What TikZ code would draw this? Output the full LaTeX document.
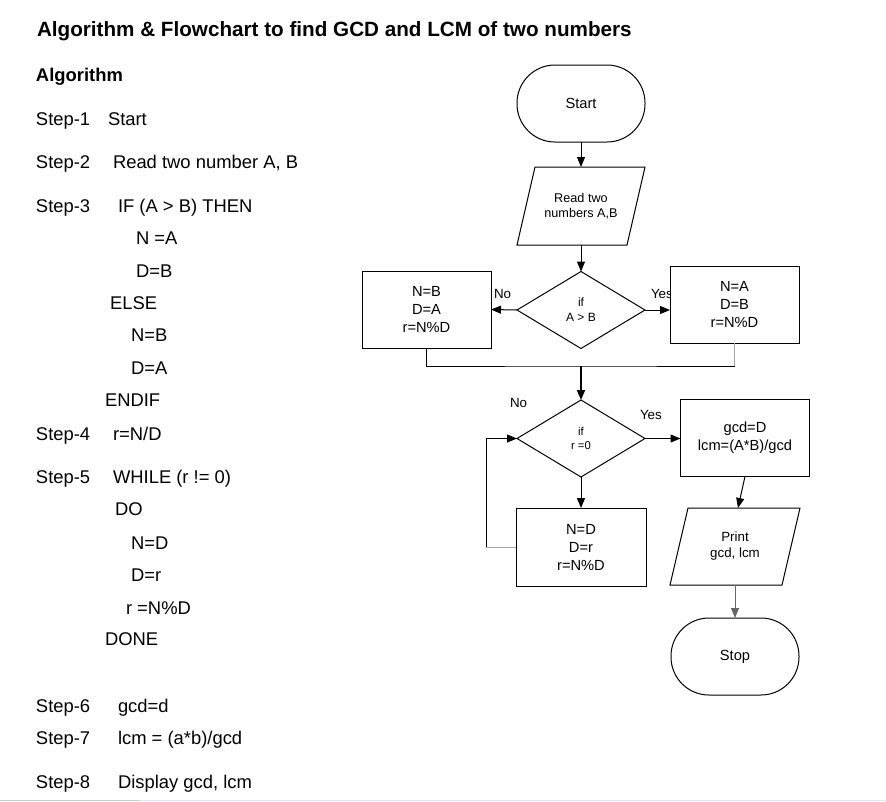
\documentclass[tikz,border=0pt]{standalone}
\usepackage{fontspec}
\setmainfont{Liberation Sans}
\usetikzlibrary{arrows.meta,shapes.geometric}
\begin{document}
\begin{tikzpicture}[x=0.75pt,y=-0.75pt,
  every node/.style={inner sep=0pt, outer sep=0pt},
  alg/.style={anchor=base west, font=\fontsize{13.8}{16}\selectfont},
  terminal/.style={draw, fill=white, line width=0.75pt, minimum width=96pt, minimum height=57.75pt, rounded corners=28.5pt, align=center, font=\fontsize{11}{13.5}\selectfont},
  procbox/.style={draw, fill=white, line width=0.75pt, minimum width=96.75pt, minimum height=57.75pt, align=center, font=\fontsize{11}{13.5}\selectfont},
  decision/.style={draw, fill=white, shape=diamond, line width=0.75pt, minimum width=96pt, minimum height=57.75pt, align=center, font=\fontsize{9}{11.25}\selectfont},
  iobox/.style={minimum width=96pt, minimum height=58.5pt, align=center},
  para/.style={line width=0.75pt},
  arrow/.style={-{Triangle[length=7.5pt,width=6pt]}, line width=0.75pt},
  lbl/.style={anchor=west, font=\fontsize{10}{12}\selectfont},
]
\useasboundingbox (0,0) rectangle (886,801);
\fill[white] (0,0) rectangle (886,801);

% ---------- title and algorithm ----------
\node[anchor=base west, font=\fontsize{15.5}{18}\bfseries] (title) at (37,36) {Algorithm \& Flowchart to find GCD and LCM of two numbers};
\node[anchor=base west, font=\fontsize{13.8}{16}\bfseries] (alghead) at (36,81) {Algorithm};

\node[alg] (s1) at (36,125) {Step-1};
\node[alg] (s1t) at (108,125) {Start};
\node[alg] (s2) at (36,168) {Step-2};
\node[alg] (s2t) at (113,168) {Read two number A, B};
\node[alg] (s3) at (36,212) {Step-3};
\node[alg] (s3t) at (118,212) {IF (A > B) THEN};
\node[alg] (s3a) at (136,244) {N =A};
\node[alg] (s3b) at (136,277) {D=B};
\node[alg] (s3c) at (110,309) {ELSE};
\node[alg] (s3d) at (131,341) {N=B};
\node[alg] (s3e) at (131,374) {D=A};
\node[alg] (s3f) at (105,406) {ENDIF};
\node[alg] (s4) at (36,440) {Step-4};
\node[alg] (s4t) at (113,440) {r=N/D};
\node[alg] (s5) at (36,483) {Step-5};
\node[alg] (s5t) at (113,483) {WHILE (r != 0)};
\node[alg] (s5a) at (115,515) {DO};
\node[alg] (s5b) at (131,549) {N=D};
\node[alg] (s5c) at (131,581) {D=r};
\node[alg] (s5d) at (126,614) {r =N\%D};
\node[alg] (s5e) at (105,645) {DONE};
\node[alg] (s6) at (36,712) {Step-6};
\node[alg] (s6t) at (118,712) {gcd=d};
\node[alg] (s7) at (36,744) {Step-7};
\node[alg] (s7t) at (118,744) {lcm = (a*b)/gcd};
\node[alg] (s8) at (36,788) {Step-8};
\node[alg] (s8t) at (118,788) {Display gcd, lcm};

% ---------- flowchart ----------
\node[lbl] (lno1) at (494,294) {No};
\node[lbl] (lyes1) at (651,294) {Yes};
\node[lbl] (lno2) at (510,403) {No};
\node[lbl] (lyes2) at (640,415) {Yes};

\node[terminal] (start) at (581,103.5) {Start};
\node[iobox, font=\fontsize{9.5}{11.25}\selectfont] (read) at (581,206) {Read two\\numbers A,B};
\draw[para] ([xshift=13.5pt]read.north west) -- (read.north east) -- ([xshift=-13.5pt]read.south east) -- (read.south west) -- cycle;
\node[decision] (d1) at (581,310) {if\\A > B};
\node[procbox] (lbox) at (426.5,309.5) {N=B\\D=A\\r=N\%D};
\node[procbox] (rbox) at (734.5,304.5) {N=A\\D=B\\r=N\%D};
\coordinate (merge) at (581,366);
\node[decision, font=\fontsize{8.5}{11}\selectfont] (d2) at (581,438.5) {if\\r =0};
\node[procbox] (gbox) at (745,438) {gcd=D\\lcm=(A*B)/gcd};
\node[procbox, minimum width=97.5pt, minimum height=58.5pt] (loop) at (581,547) {N=D\\D=r\\r=N\%D};
\node[iobox, minimum width=97.5pt, minimum height=57.75pt, font=\fontsize{10}{12}\selectfont] (print) at (735,546.5) {Print\\gcd, lcm};
\draw[para] ([xshift=13.5pt]print.north west) -- (print.north east) -- ([xshift=-13.5pt]print.south east) -- (print.south west) -- cycle;
\node[terminal] (stop) at (735,656.5) {Stop};

% connectors
\draw[arrow] (start) -- (read);
\draw[arrow] (read) -- (d1);
\draw[arrow] (d1.west) -- (lbox.east);
\draw[arrow] (d1.east) -- (rbox.west |- d1.east);
\draw[line width=0.75pt] (lbox.south) |- (merge) -| (rbox.south);
\draw[line width=0.75pt, gray!70] (rbox.south) -- (rbox.south |- merge);
\draw[arrow, line width=1.4pt] (merge) -- (d2.north);
\draw[arrow] (d2.east) -- (gbox.west |- d2.east);
\draw[arrow] (d2.south) -- (loop.north);
\draw[arrow] (loop.west) -- ++(-30,0) |- (d2.west);
\draw[line width=0.75pt, gray!70] (loop.west) -- ++(-30,0);
\draw[arrow] (gbox.south) -- ([xshift=2.25pt]print.north);
\draw[arrow, draw=gray!80!black] (print.south) -- (stop.north);

% bottom rule of the page
\draw[line width=0.75pt, gray!40] (0,800.5) -- (140,800.5);
\draw[line width=0.75pt, cyan!15!blue!10] (140,800.5) -- (886,800.5);
\end{tikzpicture}
\end{document}
